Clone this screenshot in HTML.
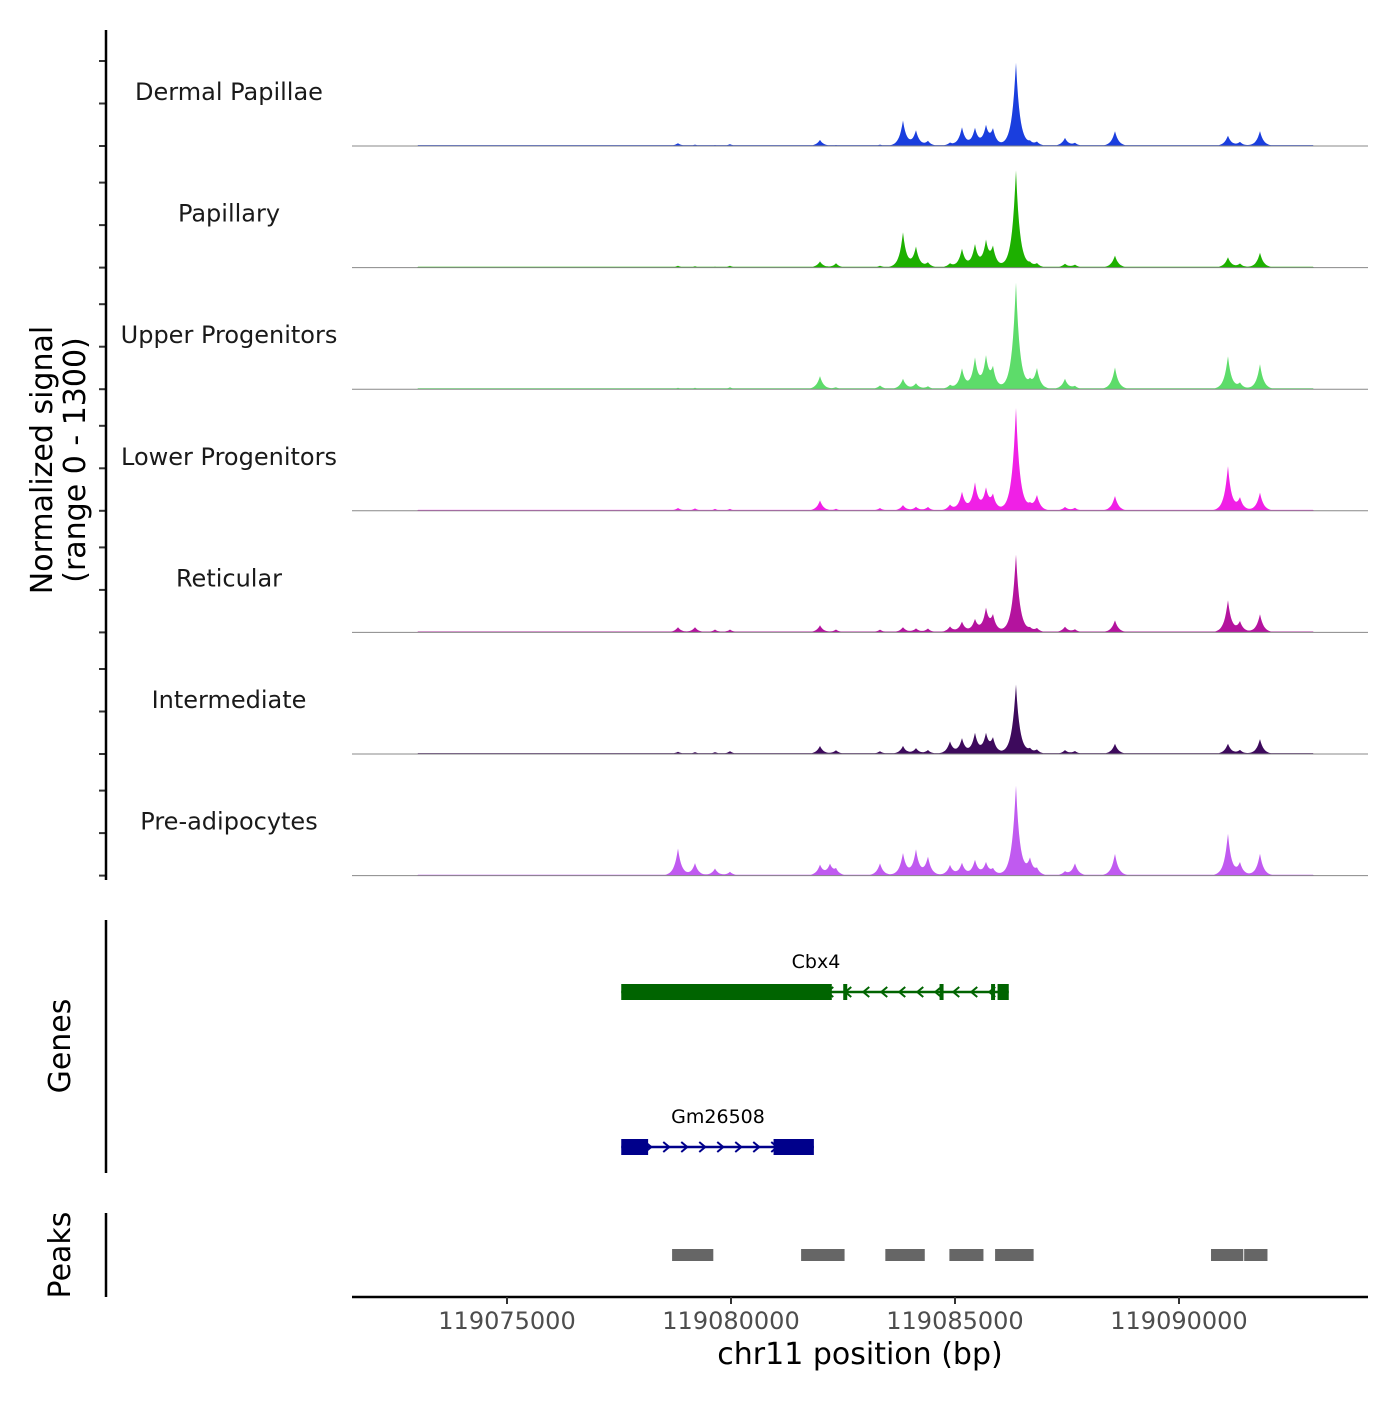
<!DOCTYPE html>
<html><head><meta charset="utf-8"><style>
body{margin:0;background:#fff}
svg{font-family:"DejaVu Sans","Liberation Sans",sans-serif}
</style></head><body>
<svg id="chart" width="1400" height="1400" viewBox="0 0 1400 1400" xmlns="http://www.w3.org/2000/svg">
<g id="tracks"></g>
<g id="genes"></g>
<g id="peaks"></g>
<g id="axes"></g>
</svg>
<script>
const trackNames=["Dermal Papillae","Papillary","Upper Progenitors","Lower Progenitors","Reticular","Intermediate","Pre-adipocytes"];
const trackColors=["#1a3ede","#1db000","#5ddc6a","#f020e6","#b4139e","#3d0a5c","#c05af0"];
const peakPos=[119078816,119079196,119079642,119079977,119081986,119082209,119082343,119083325,119083838,119084128,119084396,119084887,119085155,119085445,119085691,119085847,119086360,119086673,119086829,119087454,119087677,119088570,119091092,119091360,119091807];
const sigDermal=[30,15,10,20,65,0,10,15,270,160,50,30,195,180,195,160,900,30,40,85,30,160,110,40,160];
const sigPapillary=[20,15,10,20,65,0,45,20,375,215,50,40,195,235,260,195,1050,30,40,40,30,130,110,40,160];
const sigUpper=[15,15,10,20,140,0,20,40,110,60,30,40,215,320,320,200,1150,60,215,110,30,235,355,60,270];
const sigLower=[30,25,20,20,110,0,20,30,60,40,40,60,195,290,215,150,1110,40,160,40,30,160,480,130,195];
const sigReticular=[55,55,30,30,75,0,30,30,55,40,40,60,110,130,235,160,840,30,40,60,30,130,345,110,195];
const sigIntermediate=[25,20,20,30,85,0,40,30,85,60,40,130,160,215,195,150,750,40,40,40,30,110,110,40,160];
const sigPreadipo=[290,130,75,40,110,110,60,130,235,270,195,110,130,160,130,60,970,160,60,40,130,235,450,130,235];
const trackSignals=[sigDermal,sigPapillary,sigUpper,sigLower,sigReticular,sigIntermediate,sigPreadipo];
const xTicks=[119075000,119080000,119085000,119090000];
const peakStarts=[119078685,119081565,119083445,119084875,119085895,119090715,119091455];
const peakEnds=[119079605,119082535,119084325,119085635,119086755,119091435,119091975];

const NS="http://www.w3.org/2000/svg";
const X0=119071540,X1=119094219,PX0=352,PX1=1368;
function xs(bp){return PX0+(bp-X0)/(X1-X0)*(PX1-PX0);}
const trackH=121.6,base0=146;
function ys(v,i){return base0+i*trackH-v/1300*trackH*0.96;}
function mk(tag,attrs,parent){const e=document.createElementNS(NS,tag);for(const k in attrs)e.setAttribute(k,attrs[k]);parent.appendChild(e);return e;}
const gT=document.getElementById('tracks'),gG=document.getElementById('genes'),gP=document.getElementById('peaks'),gA=document.getElementById('axes');

trackSignals.forEach((sig,i)=>{
  const base=base0+i*trackH;
  let d=`M${PX0},${base}`;
  for(let px=PX0;px<=PX1;px+=1){
    const bp=X0+(px-PX0)/(PX1-PX0)*(X1-X0);
    let v=0;
    peakPos.forEach((p,k)=>{const w=(k==16?140:130);const t=Math.abs(bp-p)/w;const s=sig[k]*Math.exp(-t*1.6);v+=s*1.05;});
    if(bp>119073000&&bp<119093000)v=Math.max(v,10);
    d+=` L${px},${ys(v,i).toFixed(1)}`;
  }
  d+=` L${PX1},${base} Z`;
  const p=mk('path',{d:d,fill:trackColors[i]},gT);
  
  
  const l=mk('line',{x1:PX0,x2:PX1,y1:base,y2:base,stroke:'#888','stroke-width':1},gT);
  
  
  const t=mk('text',{x:229,y:base-46,'font-size':24,fill:'#1a1a1a','text-anchor':'middle'},gT);
  t.textContent=trackNames[i];
  
  
  for(let k=0;k<3;k++){
    const tk=mk('line',{x1:99,x2:106,y1:base-k*42.5,y2:base-k*42.5,stroke:'#333','stroke-width':2},gA);
    
    
  }
});

function gene(y,color,x0,x1,boxes,thin,dir,name,lx){
  mk('line',{x1:xs(x0),x2:xs(x1),y1:y,y2:y,stroke:color,'stroke-width':2.5},gG);
  boxes.forEach(b=>{const r=mk('rect',{x:xs(b[0]),y:y-8,width:xs(b[1])-xs(b[0]),height:16,fill:color},gG);
    });
  thin.forEach(b=>{mk('rect',{x:xs(b)-2,y:y-8,width:4,height:16,fill:color},gG);});
  const a0=xs(x0),a1=xs(x1);
  for(let px=a0+10;px<a1-8;px+=18){
    const s=dir>0?`M${px-4},${y-5} L${px+2},${y} L${px-4},${y+5}`:`M${px+4},${y-5} L${px-2},${y} L${px+4},${y+5}`;
    mk('path',{d:s,stroke:color,fill:'none','stroke-width':2},gG);
  }
  const t=mk('text',{x:lx,y:y-24,'font-size':19,'text-anchor':'middle',fill:'#000'},gG);
  t.textContent=name;
  
  
}
gene(992,'#006400',119077550,119086200,[[119077550,119082250],[119085950,119086200]],[119082550,119084700,119085850],-1,'Cbx4',816);
gene(1147,'#00008b',119077550,119081850,[[119077550,119078150],[119080950,119081850]],[],1,'Gm26508',718);

peakStarts.forEach((s,i)=>{
  const r=mk('rect',{x:xs(s),y:1249,width:xs(peakEnds[i])-xs(s),height:12,fill:'#666'},gP);
  
  
});

[[30,880],[920,1173],[1213,1297]].forEach(s=>{mk('line',{x1:106,x2:106,y1:s[0],y2:s[1],stroke:'#000','stroke-width':2.5},gA);});
mk('line',{x1:PX0,x2:PX1,y1:1297,y2:1297,stroke:'#000','stroke-width':2.5},gA);
xTicks.forEach(v=>{
  mk('line',{x1:xs(v),x2:xs(v),y1:1297,y2:1304,stroke:'#333','stroke-width':2},gA);
  const t=mk('text',{x:xs(v),y:1329,'font-size':24,fill:'#4d4d4d','text-anchor':'middle'},gA);
  t.textContent=v;
  
  
});
function txt(s,attrs,name){const t=mk('text',attrs,gA);t.textContent=s;return t;}
txt('chr11 position (bp)',{x:860,y:1364,'font-size':30,'text-anchor':'middle',fill:'#000'},'x-axis-title');
txt('Normalized signal',{x:0,y:0,'font-size':30,'text-anchor':'middle',transform:'translate(52,460) rotate(-90)'},'y-axis-title');
txt('(range 0 - 1300)',{x:0,y:0,'font-size':30,'text-anchor':'middle',transform:'translate(85,460) rotate(-90)'},'y-axis-subtitle');
txt('Genes',{x:0,y:0,'font-size':30,'text-anchor':'middle',transform:'translate(70,1046) rotate(-90)'},'genes-axis-title');
txt('Peaks',{x:0,y:0,'font-size':30,'text-anchor':'middle',transform:'translate(70,1255) rotate(-90)'},'peaks-axis-title');
</script>
</body></html>
